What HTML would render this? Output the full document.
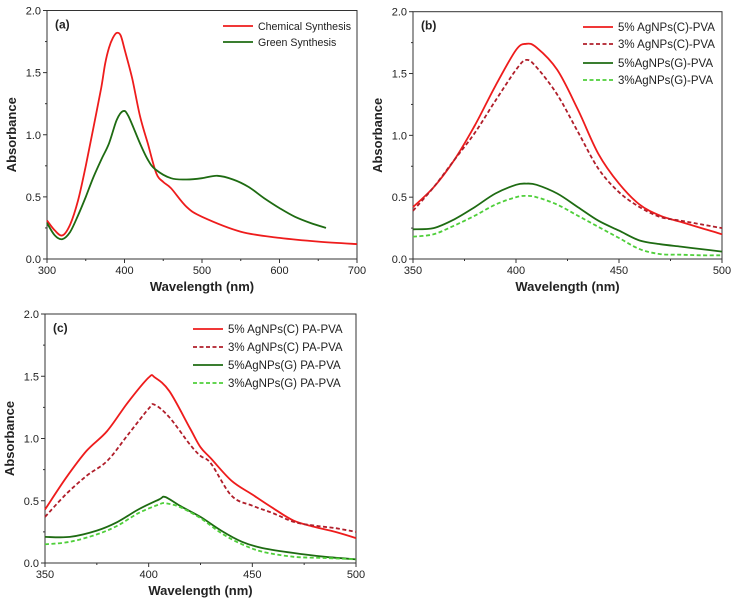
<!DOCTYPE html>
<html><head><meta charset="utf-8"><style>
body{margin:0;background:#fff;width:736px;height:602px;overflow:hidden}
svg text{font-family:"Liberation Sans",Arial,sans-serif;fill:#222}
</style></head><body>
<svg id="chart" width="736" height="602" xmlns="http://www.w3.org/2000/svg"></svg>
<script>
// Panel (a)
const aWl_chem=[300,310,320,330,340,350,360,370,375,380,385,390,395,400,410,420,430,441,450,460,480,500,550,600,650,700];
const aAbs_chem=[0.31,0.23,0.19,0.28,0.47,0.75,1.06,1.38,1.57,1.70,1.78,1.82,1.80,1.69,1.45,1.15,0.93,0.69,0.62,0.57,0.42,0.34,0.22,0.17,0.14,0.12];
const aWl_green=[300,310,320,330,340,350,360,370,380,390,398,405,420,430,440,460,480,500,520,540,560,580,600,620,640,660];
const aAbs_green=[0.29,0.19,0.16,0.22,0.35,0.50,0.66,0.80,0.93,1.12,1.19,1.15,0.93,0.80,0.72,0.65,0.64,0.65,0.67,0.64,0.58,0.49,0.41,0.34,0.29,0.25];
// Panel (b)
const bWl=[350,360,370,380,390,400,405,410,420,430,440,450,460,470,480,490,500];
const b5C=[0.42,0.58,0.80,1.08,1.40,1.69,1.74,1.71,1.53,1.21,0.85,0.61,0.44,0.35,0.30,0.25,0.20];
const b3C=[0.39,0.58,0.80,1.02,1.28,1.53,1.61,1.55,1.33,1.03,0.73,0.54,0.42,0.34,0.31,0.28,0.25];
const b5G=[0.24,0.25,0.32,0.42,0.53,0.60,0.61,0.60,0.53,0.42,0.31,0.23,0.15,0.12,0.10,0.08,0.06];
const b3G=[0.18,0.20,0.27,0.35,0.44,0.50,0.51,0.50,0.44,0.35,0.26,0.17,0.08,0.04,0.035,0.03,0.03];
// Panel (c)
const cWlC=[350,360,370,380,390,400,403,410,420,425,430,440,450,460,470,480,490,500];
const c5C=[0.43,0.68,0.90,1.06,1.29,1.49,1.49,1.38,1.08,0.93,0.84,0.66,0.55,0.44,0.34,0.29,0.25,0.20];
const c3C=[0.37,0.55,0.70,0.82,1.03,1.24,1.27,1.17,0.95,0.86,0.80,0.54,0.46,0.40,0.33,0.30,0.28,0.25];
const cWlG=[350,362,375,385,395,405,408,415,425,435,445,455,470,485,500];
const c5G=[0.21,0.21,0.26,0.33,0.43,0.51,0.53,0.46,0.37,0.26,0.17,0.12,0.08,0.05,0.03];
const c3G=[0.15,0.17,0.23,0.30,0.40,0.47,0.48,0.45,0.36,0.24,0.15,0.09,0.05,0.04,0.03];
const yTicks=["0.0","0.5","1.0","1.5","2.0"];
const aXTicks=[300,400,500,600,700];
const bXTicks=[350,400,450,500];

const NS="http://www.w3.org/2000/svg";
const svg=document.getElementById('chart');
function el(tag,attrs,parent,txt){const e=document.createElementNS(NS,tag);for(const k in attrs)e.setAttribute(k,attrs[k]);if(txt!=null)e.textContent=txt;(parent||svg).appendChild(e);return e;}
const RED="#ee1c1c",DRED="#b01e2a",DGREEN="#1e6b12",LGREEN="#4fcf3a";
function smooth(pts){
  let d='M'+pts[0][0].toFixed(1)+','+pts[0][1].toFixed(1);
  for(let i=0;i<pts.length-1;i++){
    const p0=pts[i-1]||pts[i],p1=pts[i],p2=pts[i+1],p3=pts[i+2]||p2;
    const c1=[p1[0]+(p2[0]-p0[0])/6,p1[1]+(p2[1]-p0[1])/6];
    const c2=[p2[0]-(p3[0]-p1[0])/6,p2[1]-(p3[1]-p1[1])/6];
    d+=`C${c1[0].toFixed(1)},${c1[1].toFixed(1)} ${c2[0].toFixed(1)},${c2[1].toFixed(1)} ${p2[0].toFixed(1)},${p2[1].toFixed(1)}`;
  }
  return d;
}

function panel(p){
  const g=el('g',{});
  
  
  const X=v=>p.x0+(v-p.xmin)/(p.xmax-p.xmin)*(p.x1-p.x0);
  const Y=v=>p.y0-(v/2)*(p.y0-p.y1);
  const ax=el('rect',{x:p.x0,y:p.y1,width:p.x1-p.x0,height:p.y0-p.y1,fill:'none',stroke:'#333','stroke-width':1},g);
  
  yTicks.forEach((t,i)=>{const v=+t,y=Y(v);
    el('line',{x1:p.x0-4,x2:p.x0,y1:y,y2:y,stroke:'#333'},g);
    if(i<4)el('line',{x1:p.x0-2,x2:p.x0,y1:Y(v+0.25),y2:Y(v+0.25),stroke:'#333'},g);
    const tx=el('text',{x:p.x0-6,y:y+4,'text-anchor':'end','font-size':11},g,t);
    });
  const step=p.xt[1]-p.xt[0];
  p.xt.forEach((v,i)=>{const x=X(v);
    el('line',{x1:x,x2:x,y1:p.y0,y2:p.y0+4,stroke:'#333'},g);
    if(i<p.xt.length-1)el('line',{x1:X(v+step/2),x2:X(v+step/2),y1:p.y0,y2:p.y0+2,stroke:'#333'},g);
    const tx=el('text',{x:x,y:p.y0+15,'text-anchor':'middle','font-size':11},g,v);
    });
  const yt=el('text',{x:0,y:0,'text-anchor':'middle','font-size':13,'font-weight':'bold',transform:`translate(${p.x0-31},${(p.y0+p.y1)/2}) rotate(-90)`},g,'Absorbance');
  
  const xtt=el('text',{x:(p.x0+p.x1)/2,y:p.y0+32,'text-anchor':'middle','font-size':13,'font-weight':'bold'},g,'Wavelength (nm)');
  
  const lb=el('text',{x:p.x0+8,y:p.y1+18,'font-size':12,'font-weight':'bold'},g,'('+p.id+')');
  
  p.series.forEach((s,i)=>{
    const pts=s.x.map((v,j)=>[X(v),Y(s.y[j])]);
    const path=el('path',{d:smooth(pts),fill:'none',stroke:s.c,'stroke-width':1.8,'stroke-dasharray':s.dash?'4,2.5':'none','stroke-linejoin':'round'},g);
    
    
    const ly=p.ly[i];
    const ll=el('line',{x1:p.lx,x2:p.lx+30,y1:ly,y2:ly,stroke:s.c,'stroke-width':1.8,'stroke-dasharray':s.dash?'4,2.5':'none'},g);
    
    const lt=el('text',{x:p.lx+35,y:ly+4,'font-size':p.lf},g,s.name);
    
  });
}
panel({id:'a',x0:47,x1:357,y0:259,y1:10.5,xmin:300,xmax:700,xt:aXTicks,lx:223,ly:[26,42],lf:10.6,
  series:[{key:'chemical',name:'Chemical Synthesis',x:aWl_chem,y:aAbs_chem,c:RED},
          {key:'green',name:'Green Synthesis',x:aWl_green,y:aAbs_green,c:DGREEN}]});
panel({id:'b',x0:413,x1:722,y0:259,y1:11.7,xmin:350,xmax:500,xt:bXTicks,lx:583,ly:[27,44,63,80],lf:11.5,
  series:[{key:'5c',name:'5% AgNPs(C)-PVA',x:bWl,y:b5C,c:RED},
          {key:'3c',name:'3% AgNPs(C)-PVA',x:bWl,y:b3C,c:DRED,dash:1},
          {key:'5g',name:'5%AgNPs(G)-PVA',x:bWl,y:b5G,c:DGREEN},
          {key:'3g',name:'3%AgNPs(G)-PVA',x:bWl,y:b3G,c:LGREEN,dash:1}]});
panel({id:'c',x0:45,x1:356,y0:563,y1:314,xmin:350,xmax:500,xt:bXTicks,lx:193,ly:[329,347,365,383],lf:11.5,
  series:[{key:'5c',name:'5% AgNPs(C) PA-PVA',x:cWlC,y:c5C,c:RED},
          {key:'3c',name:'3% AgNPs(C) PA-PVA',x:cWlC,y:c3C,c:DRED,dash:1},
          {key:'5g',name:'5%AgNPs(G) PA-PVA',x:cWlG,y:c5G,c:DGREEN},
          {key:'3g',name:'3%AgNPs(G) PA-PVA',x:cWlG,y:c3G,c:LGREEN,dash:1}]});
</script>
</body></html>
